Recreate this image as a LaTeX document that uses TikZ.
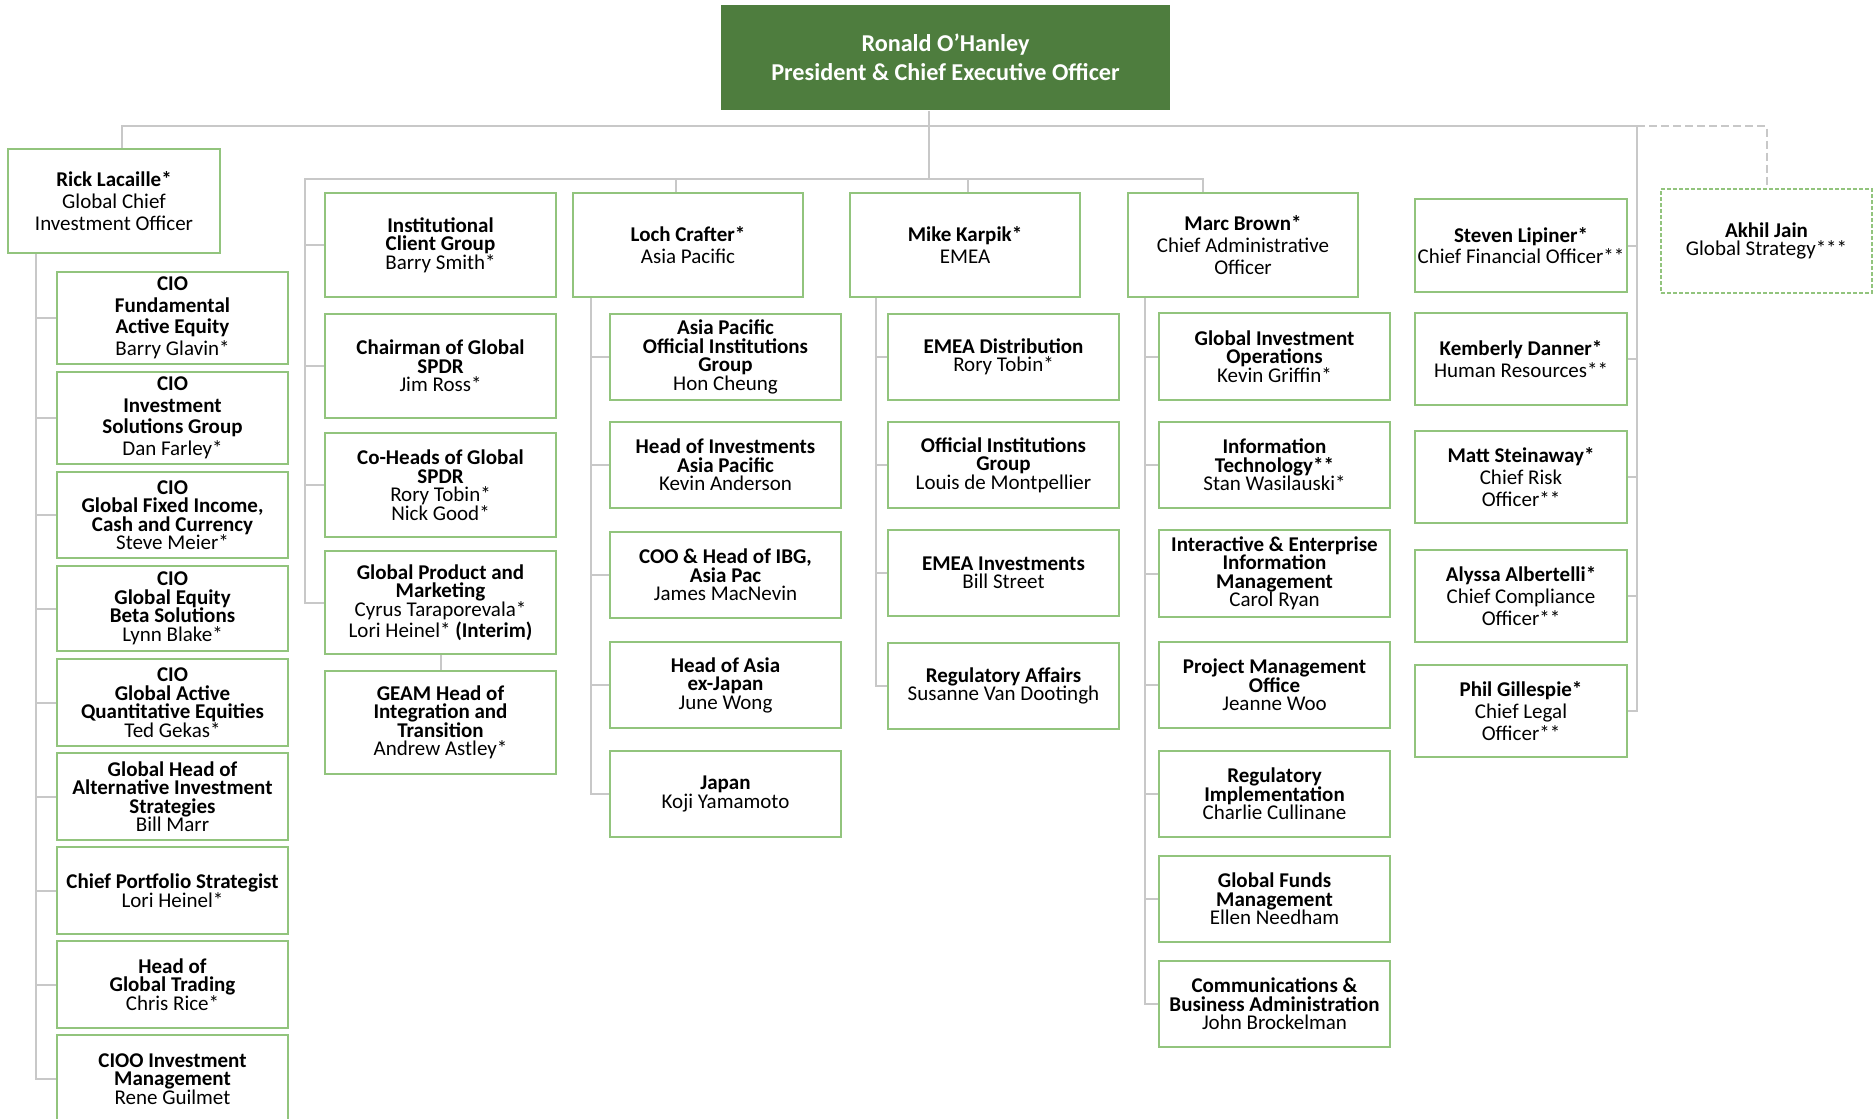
\documentclass[tikz,border=0pt]{standalone}
\usepackage{fontspec}
\setmainfont{Carlito}

\definecolor{ceogreen}{RGB}{78,125,62}
\definecolor{boxgreen}{RGB}{146,196,125}
\definecolor{linegray}{RGB}{200,200,200}

\tikzset{
  box/.style={draw=boxgreen, line width=1pt, fill=white, inner sep=0pt,
    align=center, font=\fontsize{10.5}{9.25}\selectfont},
  loose/.style={font=\fontsize{10.5}{10.8}\selectfont},
  ceobox/.style={fill=ceogreen, draw=none, text=white,
    font=\bfseries\fontsize{12.1}{14.4}\selectfont},
  dashedbox/.style={dash pattern=on 2pt off 1pt},
  conn/.style={draw=linegray, line width=1pt},
  dotconn/.style={draw=linegray, line width=1pt, dash pattern=on 4pt off 2pt},
}

% \orgbox[style]{name}{x1}{y1}{x2}{y2}{text}
\newcommand\orgbox[7][]{%
  \node[box,#1,minimum width={(#5-#3)*0.5pt},minimum height={(#6-#4)*0.5pt}]
    (#2) at ({(#3+#5)/2},{(#4+#6)/2}) {#7};}

\begin{document}
\begin{tikzpicture}[x=0.5pt,y=-0.5pt]
\useasboundingbox (0,0) rectangle (1875,1119);
\clip (0,0) rectangle (1875,1119);

% chief executive
\orgbox[ceobox]{ceo}{721}{5}{1170}{110}{Ronald O’Hanley\\President \& Chief Executive Officer}

% investment column
\orgbox[loose]{rick}{8}{149}{220}{253}{\textbf{Rick Lacaille*}\\Global Chief\\Investment Officer}
\orgbox[loose]{cioA}{57}{272}{288}{364}{\textbf{CIO}\\\textbf{Fundamental}\\\textbf{Active Equity}\\Barry Glavin*}
\orgbox[loose]{cioB}{57}{372}{288}{464}{\textbf{CIO}\\\textbf{Investment}\\\textbf{Solutions Group}\\Dan Farley*}
\orgbox{cioC}{57}{472}{288}{558}{\textbf{CIO}\\\textbf{Global Fixed Income,}\\\textbf{Cash and Currency}\\Steve Meier*}
\orgbox{cioD}{57}{566}{288}{651}{\textbf{CIO}\\\textbf{Global Equity}\\\textbf{Beta Solutions}\\Lynn Blake*}
\orgbox{cioE}{57}{659}{288}{746}{\textbf{CIO}\\\textbf{Global Active}\\\textbf{Quantitative Equities}\\Ted Gekas*}
\orgbox{alt}{57}{753}{288}{840}{\textbf{Global Head of}\\\textbf{Alternative Investment}\\\textbf{Strategies}\\Bill Marr}
\orgbox{cps}{57}{847}{288}{934}{\textbf{Chief Portfolio Strategist}\\Lori Heinel*}
\orgbox{hgt}{57}{941}{288}{1028}{\textbf{Head of}\\\textbf{Global Trading}\\Chris Rice*}
\orgbox{cioo}{57}{1035}{288}{1123}{\textbf{CIOO Investment}\\\textbf{Management}\\Rene Guilmet}

% institutional client group column
\orgbox{inst}{325}{193}{556}{297}{\textbf{Institutional}\\\textbf{Client Group}\\Barry Smith*}
\orgbox{chair}{325}{314}{556}{418}{\textbf{Chairman of Global}\\\textbf{SPDR}\\Jim Ross*}
\orgbox{cohead}{325}{433}{556}{537}{\textbf{Co-Heads of Global}\\\textbf{SPDR}\\Rory Tobin*\\Nick Good*}
\orgbox{gpm}{325}{551}{556}{654}{\textbf{Global Product and}\\\textbf{Marketing}\\Cyrus Taraporevala*\\Lori Heinel* \textbf{(Interim)}}
\orgbox{geam}{325}{671}{556}{774}{\textbf{GEAM Head of}\\\textbf{Integration and}\\\textbf{Transition}\\Andrew Astley*}

% asia pacific column
\orgbox[loose]{loch}{573}{193}{803}{297}{\textbf{Loch Crafter*}\\Asia Pacific}
\orgbox{apoig}{610}{314}{841}{400}{\textbf{Asia Pacific}\\\textbf{Official Institutions}\\\textbf{Group}\\Hon Cheung}
\orgbox{hoi}{610}{422}{841}{508}{\textbf{Head of Investments}\\\textbf{Asia Pacific}\\Kevin Anderson}
\orgbox{coo}{610}{532}{841}{618}{\textbf{COO \& Head of IBG,}\\\textbf{Asia Pac}\\James MacNevin}
\orgbox{hoa}{610}{642}{841}{728}{\textbf{Head of Asia}\\\textbf{ex-Japan}\\June Wong}
\orgbox{japan}{610}{751}{841}{837}{\textbf{Japan}\\Koji Yamamoto}

% emea column
\orgbox[loose]{mike}{850}{193}{1080}{297}{\textbf{Mike Karpik*}\\EMEA}
\orgbox{emead}{888}{314}{1119}{400}{\textbf{EMEA Distribution}\\Rory Tobin*}
\orgbox{oig}{888}{422}{1119}{508}{\textbf{Official Institutions}\\\textbf{Group}\\Louis de Montpellier}
\orgbox{emeai}{888}{530}{1119}{616}{\textbf{EMEA Investments}\\Bill Street}
\orgbox{rega}{888}{643}{1119}{729}{\textbf{Regulatory Affairs}\\Susanne Van Dootingh}

% administration column
\orgbox[loose]{marc}{1128}{193}{1358}{297}{\textbf{Marc Brown*}\\Chief Administrative\\Officer}
\orgbox{gio}{1159}{313}{1390}{400}{\textbf{Global Investment}\\\textbf{Operations}\\Kevin Griffin*}
\orgbox{it}{1159}{422}{1390}{508}{\textbf{Information}\\\textbf{Technology**}\\Stan Wasilauski*}
\orgbox{iei}{1159}{530}{1390}{617}{\textbf{Interactive \& Enterprise}\\\textbf{Information}\\\textbf{Management}\\Carol Ryan}
\orgbox{pmo}{1159}{642}{1390}{728}{\textbf{Project Management}\\\textbf{Office}\\Jeanne Woo}
\orgbox{regi}{1159}{751}{1390}{837}{\textbf{Regulatory}\\\textbf{Implementation}\\Charlie Cullinane}
\orgbox{gfm}{1159}{856}{1390}{942}{\textbf{Global Funds}\\\textbf{Management}\\Ellen Needham}
\orgbox{cba}{1159}{961}{1390}{1047}{\textbf{Communications \&}\\\textbf{Business Administration}\\John Brockelman}

% corporate functions column
\orgbox[loose]{steven}{1415}{199}{1627}{292}{\textbf{Steven Lipiner*}\\Chief Financial Officer**}
\orgbox[loose]{kem}{1415}{313}{1627}{405}{\textbf{Kemberly Danner*}\\Human Resources**}
\orgbox[loose]{matt}{1415}{431}{1627}{523}{\textbf{Matt Steinaway*}\\Chief Risk\\Officer**}
\orgbox[loose]{alyssa}{1415}{550}{1627}{642}{\textbf{Alyssa Albertelli*}\\Chief Compliance\\Officer**}
\orgbox[loose]{phil}{1415}{665}{1627}{757}{\textbf{Phil Gillespie*}\\Chief Legal\\Officer**}

% dotted-line report
\orgbox[dashedbox]{akhil}{1661}{189}{1872}{293}{\textbf{Akhil Jain}\\Global Strategy***}

% reporting lines
\coordinate (busL) at (122,126);
\coordinate (busR) at (1637,126);
\coordinate (ceoStem) at (929,179);
\coordinate (bus2L) at (305,179);
\coordinate (bus2R) at (1203,179);
\coordinate (lochDrop) at (675.5,179);
\coordinate (mikeDrop) at (968,179);
\coordinate (rickSpine) at (35.6,0);
\coordinate (lochSpine) at (591,0);
\coordinate (mikeSpine) at (876,0);
\coordinate (marcSpine) at (1145,0);

\draw[conn] (rick.north -| busL) -- (busL) -- (busR) |- (phil.east);
\draw[conn] (ceo.south -| ceoStem) -- (ceoStem);
\draw[conn] (bus2R |- marc.north) -- (bus2R) -- (bus2L) |- (gpm.west);
\draw[conn] (lochDrop) -- (lochDrop |- loch.north);
\draw[conn] (mikeDrop) -- (mikeDrop |- mike.north);
\foreach \n in {inst,chair,cohead} \draw[conn] (\n.west -| bus2L) -- (\n.west);
\draw[conn] (gpm.south) -- (geam.north);

\draw[conn] (rick.south -| rickSpine) |- (cioo.west);
\foreach \n in {cioA,cioB,cioC,cioD,cioE,alt,cps,hgt} \draw[conn] (\n.west -| rickSpine) -- (\n.west);

\draw[conn] (loch.south -| lochSpine) |- (japan.west);
\foreach \n in {apoig,hoi,coo,hoa} \draw[conn] (\n.west -| lochSpine) -- (\n.west);

\draw[conn] (mike.south -| mikeSpine) |- (rega.west);
\foreach \n in {emead,oig,emeai} \draw[conn] (\n.west -| mikeSpine) -- (\n.west);

\draw[conn] (marc.south -| marcSpine) |- (cba.west);
\foreach \n in {gio,it,iei,pmo,regi,gfm} \draw[conn] (\n.west -| marcSpine) -- (\n.west);

\foreach \n in {steven,kem,matt,alyssa} \draw[conn] (\n.east) -- (\n.east -| busR);

\draw[dotconn] (busR) -| (akhil.north);
\end{tikzpicture}
\end{document}
